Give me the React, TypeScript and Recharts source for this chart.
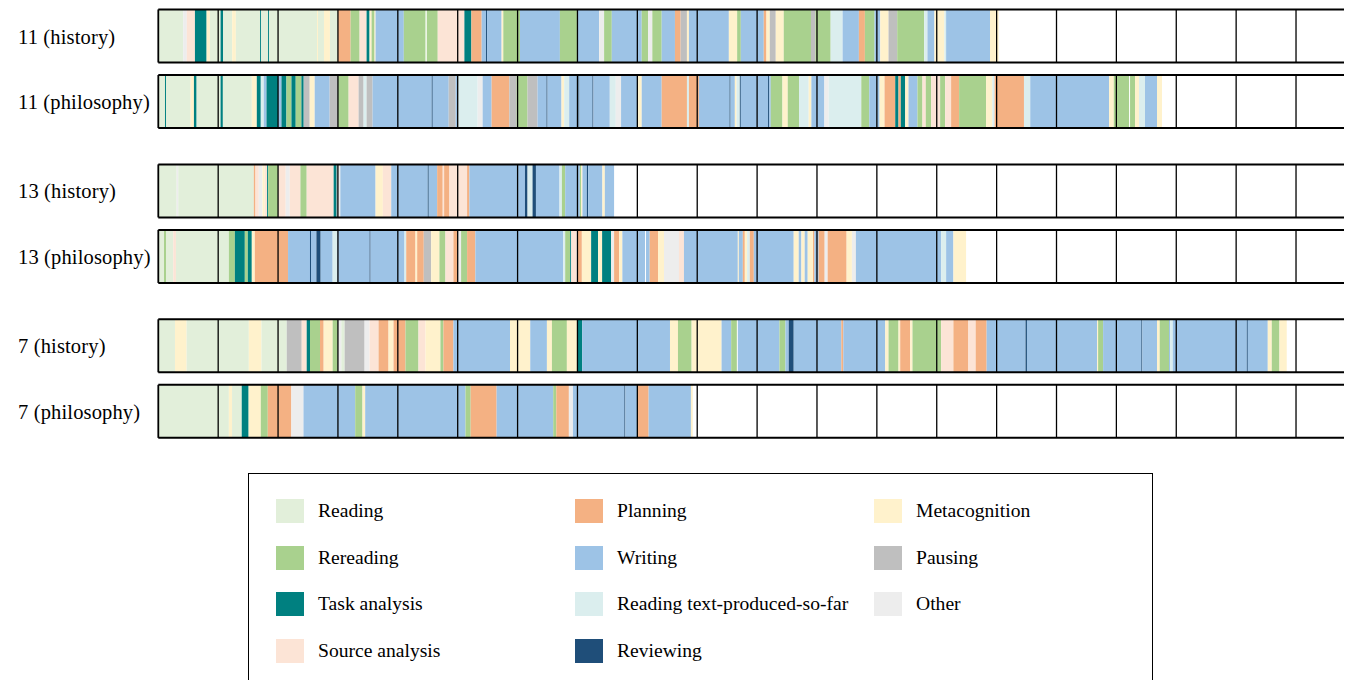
import React from 'react';
import { ComposedChart, XAxis, YAxis, ReferenceArea, ReferenceLine, Legend } from 'recharts';

type Seg = [number, number, string];

// Activity categories (key, label) and colours
const CATEGORY_KEYS = ['R', 'RR', 'T', 'S', 'P', 'W', 'RT', 'RV', 'M', 'PA', 'O'];
const CATEGORY_LABELS = [
  'Reading', 'Rereading', 'Task analysis', 'Source analysis', 'Planning', 'Writing',
  'Reading text-produced-so-far', 'Reviewing', 'Metacognition', 'Pausing', 'Other',
];
const CATEGORY_COLORS = [
  '#e2efda', '#a9d18e', '#008080', '#fce4d6', '#f4b183', '#9dc3e6',
  '#dbeeee', '#1f4e79', '#fff2cc', '#bfbfbf', '#ededed',
];
// legend columns (indices into the category list)
const LEGEND_COLUMNS = [[0, 1, 2, 3], [4, 5, 6, 7], [8, 9, 10]];

const ROW_LABELS = ['11 (history)', '11 (philosophy)', '13 (history)', '13 (philosophy)', '7 (history)', '7 (philosophy)'];

// time in seconds; one grid cell = 60 s
const TOTAL_SECONDS = 1200;
const CELL_SECONDS = 60;

const row11History: Seg[] = [
  [0, 25, 'R'], [25, 28.5, 'O'], [28.5, 36.7, 'S'], [36.7, 48.4, 'T'], [48.4, 51.7, 'M'], [51.7, 62.4, 'R'],
  [62.4, 65, 'T'], [65, 74, 'R'], [74, 77.7, 'M'], [77.7, 102, 'R'], [102, 103, 'T'], [103, 110, 'R'],
  [110, 111, 'T'], [111, 159, 'R'], [159, 160, 'M'], [160, 166, 'R'], [166, 172, 'M'], [172, 180, 'R'],
  [180, 192.7, 'P'], [192.7, 201.7, 'RR'], [201.7, 208.7, 'S'], [208.7, 211.7, 'T'], [211.7, 213.7, 'M'],
  [213.7, 216.7, 'RR'], [216.7, 217.7, 'M'], [217.7, 246, 'W'], [246, 267.7, 'RR'], [269, 280, 'RR'],
  [280, 306.7, 'S'], [306.7, 313.7, 'T'], [313.7, 324, 'P'], [324, 328.4, 'W'], [328.4, 329.4, 'RV'],
  [329.4, 344, 'W'], [344, 345.7, 'M'], [345.7, 362.4, 'RR'], [362.4, 402.4, 'W'], [402.4, 419.5, 'RR'],
  [419.5, 441.7, 'W'], [441.7, 446.7, 'O'], [446.7, 454.4, 'RR'], [454.4, 484.4, 'W'], [484.4, 490.7, 'RR'],
  [490.7, 495, 'O'], [495, 504.4, 'RR'], [504.4, 517.7, 'W'], [517.7, 523.4, 'P'], [523.4, 529.7, 'PA'],
  [529.7, 531.7, 'M'], [531.7, 571.7, 'W'], [571.7, 580, 'M'], [580, 583.7, 'RR'], [583.7, 606.7, 'W'],
  [606.7, 609.4, 'P'], [609.4, 612.7, 'M'], [612.7, 618.7, 'PA'], [618.7, 626.7, 'M'], [626.7, 654, 'RR'],
  [654, 658.4, 'PA'], [658.4, 673.7, 'RR'], [673.7, 685.7, 'RT'], [685.7, 702, 'W'], [702, 708, 'P'],
  [708, 717.7, 'RR'], [717.7, 723.4, 'W'], [723.4, 731.7, 'M'], [731.7, 740.4, 'PA'], [740.4, 767.4, 'RR'],
  [767.4, 770.7, 'RT'], [770.7, 777.7, 'W'], [777.7, 787.7, 'M'], [787.7, 789.4, 'RT'], [789.4, 833.4, 'W'],
  [833.4, 842, 'M'],
];

const row11Philosophy: Seg[] = [
  [0, 6.7, 'R'], [6.7, 7.7, 'T'], [7.7, 32.4, 'R'], [32.4, 35.7, 'M'], [35.7, 38.4, 'T'], [38.4, 62.4, 'R'],
  [62.4, 64.7, 'T'], [64.7, 93.7, 'R'], [93.7, 98.7, 'M'], [98.7, 102.7, 'T'], [102.7, 105.7, 'RT'],
  [105.7, 108.4, 'W'], [108.4, 120, 'T'], [120, 123.4, 'W'], [123.4, 128.4, 'T'], [128.4, 133.4, 'RR'],
  [133.4, 137.7, 'T'], [137.7, 143.4, 'RR'], [143.4, 145.7, 'T'], [145.7, 151.7, 'PA'], [151.7, 156.7, 'M'],
  [156.7, 171.7, 'W'], [171.7, 180, 'PA'], [180, 190.7, 'RR'], [190.7, 200.7, 'S'], [200.7, 205.7, 'PA'],
  [205.7, 208.7, 'RT'], [208.7, 214.7, 'PA'], [214.7, 274, 'W'], [274, 275, 'RV'], [275, 291, 'W'],
  [291, 298, 'PA'], [298, 300, 'W'], [300, 320, 'RT'], [320, 325, 'O'], [325, 334, 'W'], [334, 351.7, 'P'],
  [351.7, 359, 'PA'], [359, 370, 'RR'], [370, 380, 'PA'], [380, 389, 'W'], [389, 390, 'RV'], [390, 404, 'W'],
  [404, 406.7, 'M'], [406.7, 411.7, 'RT'], [411.7, 421, 'W'], [421, 422, 'RV'], [422, 435, 'W'],
  [435, 436, 'RV'], [436, 452.4, 'W'], [452.4, 458.4, 'RT'], [458.4, 463.7, 'O'], [463.7, 480, 'W'],
  [480, 484.4, 'M'], [484.4, 504.4, 'W'], [504.4, 529.7, 'P'], [529.7, 531.7, 'RT'], [531.7, 541.7, 'P'],
  [541.7, 572.4, 'W'], [572.4, 573.4, 'RV'], [573.4, 577.7, 'W'], [577.7, 579.4, 'M'], [579.4, 582.7, 'RT'],
  [582.7, 583.7, 'RV'], [583.7, 611, 'W'], [611, 612, 'RV'], [612, 613.7, 'W'], [613.7, 625.4, 'RR'],
  [625.4, 630.7, 'M'], [630.7, 642, 'RR'], [642, 651.7, 'RT'], [651.7, 654.4, 'M'], [654.4, 667.4, 'W'],
  [667.4, 671.7, 'O'], [671.7, 704.4, 'RT'], [704.4, 712.4, 'RR'], [712.4, 722.7, 'W'], [722.7, 727.7, 'M'],
  [727.7, 738.4, 'P'], [738.4, 741.7, 'T'], [741.7, 744, 'P'], [744, 748.4, 'T'], [748.4, 751.7, 'M'],
  [751.7, 760.7, 'W'], [760.7, 765.7, 'RR'], [765.7, 769, 'S'], [769, 774.4, 'RR'], [774.4, 783.4, 'S'],
  [783.4, 788.4, 'RR'], [788.4, 794.4, 'S'], [794.4, 802.4, 'P'], [802.4, 829.4, 'RR'], [829.4, 835.7, 'M'],
  [835.7, 838, 'RT'], [838, 867.4, 'P'], [867.4, 873.7, 'RT'], [873.7, 952.7, 'W'], [952.7, 957.4, 'M'],
  [957.4, 972.7, 'RR'], [973.7, 978.7, 'RR'], [978.7, 982.7, 'M'], [982.7, 988.7, 'RT'], [988.7, 1000.7, 'W'],
  [1000.7, 1005.7, 'M'],
];

const row13History: Seg[] = [
  [0, 18.4, 'R'], [18.4, 20, 'O'], [20, 95.7, 'R'], [95.7, 97.4, 'P'], [97.4, 100.7, 'S'], [100.7, 104.4, 'O'],
  [104.4, 106.7, 'M'], [106.7, 109, 'S'], [109, 110, 'T'], [110, 120, 'RR'], [120, 127.7, 'S'],
  [127.7, 131.7, 'O'], [131.7, 142.4, 'S'], [142.4, 148.7, 'RR'], [148.7, 175.7, 'S'], [175.7, 178.7, 'T'],
  [178.7, 180, 'PA'], [181, 182.4, 'O'], [182.4, 217.7, 'W'], [217.7, 225, 'M'], [225, 233.4, 'S'],
  [233.4, 270, 'W'], [270, 271, 'RV'], [271, 279.4, 'W'], [279.4, 285, 'P'], [285, 286.4, 'S'],
  [286.4, 291.7, 'P'], [291.7, 309.4, 'S'], [309.4, 311.7, 'P'], [311.7, 367.4, 'W'], [367.4, 370, 'RV'],
  [370, 375, 'RT'], [375, 378.4, 'RV'], [378.4, 402, 'W'], [402, 404.4, 'RT'], [404.4, 407.7, 'RR'],
  [407.7, 422.4, 'W'], [422.4, 423.7, 'RR'], [423.7, 425, 'M'], [425, 429.4, 'W'], [429.4, 430.7, 'RV'],
  [430.7, 445, 'W'], [445, 447.4, 'M'], [447.4, 456.7, 'W'],
];

const row13Philosophy: Seg[] = [
  [0, 5.7, 'R'], [5.7, 7.7, 'RR'], [7.7, 15, 'R'], [15, 17.7, 'S'], [17.7, 70.7, 'R'], [70.7, 76.7, 'RR'],
  [76.7, 86.7, 'T'], [86.7, 89.7, 'RR'], [89.7, 93.7, 'T'], [93.7, 96.7, 'M'], [96.7, 130, 'P'],
  [130, 152, 'W'], [152, 153, 'RV'], [153, 158.4, 'W'], [158.4, 162.7, 'RV'], [162.7, 174.7, 'W'],
  [174.7, 179.4, 'RT'], [179.4, 211.7, 'W'], [211.7, 212.7, 'RV'], [212.7, 246.7, 'W'], [246.7, 248.4, 'RT'],
  [248.4, 257.7, 'P'], [257.7, 259.4, 'M'], [259.4, 266, 'P'], [266, 273.4, 'PA'], [273.4, 281.7, 'M'],
  [281.7, 287.7, 'RR'], [287.7, 295.7, 'S'], [295.7, 300, 'P'], [300, 303.4, 'O'], [303.4, 309.4, 'RR'],
  [309.4, 317.7, 'P'], [317.7, 405.7, 'W'], [405.7, 407.7, 'RT'], [407.7, 412.7, 'RR'], [412.7, 413.7, 'T'],
  [413.7, 419, 'S'], [420, 424.4, 'P'], [424.4, 433.7, 'M'], [433.7, 440.7, 'T'], [440.7, 444.7, 'M'],
  [444.7, 453.7, 'T'], [453.7, 456.7, 'O'], [456.7, 461.7, 'P'], [461.7, 465, 'M'], [465, 487.7, 'W'],
  [488.7, 492.4, 'W'], [492.4, 500.7, 'P'], [500.7, 506.7, 'M'], [506.7, 521.7, 'O'], [521.7, 526.7, 'S'],
  [526.7, 580.7, 'W'], [580.7, 581.7, 'M'], [581.7, 585.7, 'W'], [585.7, 587.7, 'P'], [587.7, 590, 'M'],
  [590, 592.7, 'RT'], [592.7, 596.7, 'P'], [596.7, 636.7, 'W'], [636.7, 641.7, 'M'], [641.7, 644.4, 'W'],
  [644.4, 647.7, 'M'], [647.7, 650.7, 'W'], [650.7, 656, 'M'], [656, 657.4, 'P'], [657.4, 661.7, 'W'],
  [661.7, 667.7, 'P'], [667.7, 670.7, 'O'], [670.7, 689.7, 'P'], [689.7, 695, 'M'], [695, 699, 'O'],
  [699, 784.4, 'W'], [784.4, 789.4, 'RT'], [789.4, 796.7, 'W'], [796.7, 809.4, 'M'],
];

const row7History: Seg[] = [
  [0, 16.7, 'R'], [16.7, 28.4, 'M'], [28.4, 90.7, 'R'], [90.7, 103.4, 'M'], [103.4, 128.7, 'R'],
  [128.7, 143.7, 'PA'], [143.7, 148.7, 'S'], [148.7, 152, 'T'], [152, 162, 'RR'], [162, 165.7, 'P'],
  [165.7, 174.7, 'M'], [174.7, 180, 'RR'], [180, 183.4, 'O'], [183.4, 186.7, 'R'], [186.7, 206.7, 'PA'],
  [206.7, 211.7, 'O'], [211.7, 220.7, 'S'], [220.7, 230.7, 'P'], [230.7, 235.7, 'M'], [235.7, 247.7, 'P'],
  [247.7, 260.7, 'RR'], [260.7, 267.7, 'S'], [267.7, 282.7, 'M'], [282.7, 285.7, 'RR'], [285.7, 295.7, 'P'],
  [295.7, 352.4, 'W'], [352.4, 372.7, 'M'], [372.7, 389.4, 'W'], [389.4, 394.4, 'M'], [394.4, 409.4, 'RR'],
  [409.4, 419.5, 'M'], [419.5, 424.7, 'T'], [424.7, 512.7, 'W'], [512.7, 520.7, 'M'], [520.7, 534.4, 'RR'],
  [534.4, 564.4, 'M'], [564.4, 574, 'W'], [574, 579.7, 'RR'], [580.7, 622.4, 'W'], [622.4, 628.4, 'RR'],
  [628.4, 631.7, 'W'], [631.7, 636.7, 'RV'], [636.7, 684.4, 'W'], [684.4, 686.4, 'P'], [686.4, 728.4, 'W'],
  [728.4, 731.7, 'M'], [731.7, 741.7, 'RR'], [741.7, 743.4, 'M'], [743.4, 753.4, 'P'], [753.4, 755.7, 'M'],
  [755.7, 784.4, 'RR'], [784.4, 796.7, 'S'], [796.7, 811.7, 'P'], [811.7, 819, 'S'], [819, 830, 'P'],
  [830, 869, 'W'], [869, 870.4, 'RV'], [870.4, 940.7, 'W'], [940.7, 941.7, 'M'], [941.7, 946.7, 'RR'],
  [946.7, 985, 'W'], [985, 986, 'RV'], [986, 1000.7, 'W'], [1000.7, 1003.4, 'M'], [1003.4, 1012.7, 'RR'],
  [1012.7, 1014, 'W'], [1014, 1016.5, 'RT'], [1016.5, 1090.7, 'W'], [1090.7, 1091.7, 'RV'],
  [1091.7, 1111.7, 'W'], [1111.7, 1115.7, 'M'], [1115.7, 1123.4, 'RR'], [1123.4, 1130.7, 'M'],
];

const row7Philosophy: Seg[] = [
  [0, 70.7, 'R'], [70.7, 73.9, 'M'], [73.9, 83.6, 'R'], [83.6, 90.5, 'T'], [90.5, 102.7, 'M'],
  [102.7, 109.7, 'RR'], [109.7, 133.3, 'P'], [133.3, 145.5, 'O'], [145.5, 197.3, 'W'], [197.3, 204.6, 'RR'],
  [204.6, 207.3, 'M'], [207.3, 307.8, 'W'], [307.8, 313, 'RR'], [313, 339, 'P'], [339, 395.7, 'W'],
  [395.7, 398.8, 'RR'], [398.8, 411.4, 'P'], [411.4, 415.5, 'O'], [415.5, 467, 'W'], [467, 468, 'RV'],
  [468, 480, 'W'], [480, 491.3, 'P'], [491.3, 533.7, 'W'], [533.7, 535.5, 'M'],
];

const ROWS: Seg[][] = [row11History, row11Philosophy, row13History, row13Philosophy, row7History, row7Philosophy];

// layout: vertical position of each row (in row units) and half height of a row
const ROW_POS = [0, 1, 2.365, 3.365, 4.73, 5.73];
const HALF = 0.405;

const FONT = "'Liberation Serif', 'Times New Roman', serif";

const colorOf = (k: string) => CATEGORY_COLORS[CATEGORY_KEYS.indexOf(k)];

const RowTick = (props: any) => {
  const { y, payload } = props;
  const idx = ROW_POS.indexOf(payload.value);
  return (
    <text x={10} y={y} dy={7.5} textAnchor="start" fontFamily={FONT} fontSize={20.5} letterSpacing={0.15} fill="#000">
      {ROW_LABELS[idx]}
    </text>
  );
};

const LegendBox = () => {
  const colX = [27, 326, 625];
  const rowY = [37, 84, 130, 177];
  return (
    <div
      style={{
        position: 'relative',
        width: 903,
        height: 230,
        border: '1.5px solid #000',
        background: '#fff',
        fontFamily: FONT,
        fontSize: 19.6,
        color: '#000',
      }}
    >
      {LEGEND_COLUMNS.map((col, ci) =>
        col.map((catIdx, ri) => (
          <div key={`${ci}-${ri}`} style={{ position: 'absolute', left: colX[ci], top: rowY[ri] - 12, height: 24, display: 'flex', alignItems: 'center' }}>
            <div style={{ width: 28, height: 24, background: CATEGORY_COLORS[catIdx] }} />
            <span style={{ marginLeft: 14, whiteSpace: 'nowrap', lineHeight: '24px' }}>{CATEGORY_LABELS[catIdx]}</span>
          </div>
        ))
      )}
    </div>
  );
};

export default function App() {
  const cells: number[] = [];
  for (let t = 0; t < TOTAL_SECONDS; t += CELL_SECONDS) cells.push(t);

  return (
    <div style={{ width: 1344, height: 672, overflow: 'hidden', position: 'relative', background: '#fff' }}>
      <style>{'html, body { overflow: hidden; } ::-webkit-scrollbar { display: none; width: 0; height: 0; }'}</style>
      <ComposedChart
        width={1360}
        height={672}
        data={[{ t: 0 }]}
        margin={{ top: 0.49, right: 12.1, bottom: 213, left: 8.3 }}
      >
        <XAxis type="number" dataKey="t" domain={[0, TOTAL_SECONDS]} hide allowDataOverflow />
        <YAxis
          type="number"
          domain={[-0.42, 6.58]}
          reversed
          ticks={ROW_POS}
          interval={0}
          width={142}
          axisLine={false}
          tickLine={false}
          tick={<RowTick />}
          allowDataOverflow
        />
        {ROWS.map((segs, ri) =>
          segs.map(([a, b, k], si) => (
            <ReferenceArea
              key={`s-${ri}-${si}`}
              x1={a}
              x2={b}
              y1={ROW_POS[ri] - HALF}
              y2={ROW_POS[ri] + HALF}
              fill={colorOf(k)}
              fillOpacity={1}
              stroke="none"
              ifOverflow="visible"
            />
          ))
        )}
        {ROWS.map((_, ri) =>
          cells.map((t) => (
            <ReferenceLine
              key={`c-${ri}-${t}`}
              segment={[{ x: t, y: ROW_POS[ri] - HALF }, { x: t, y: ROW_POS[ri] + HALF }]}
              stroke="#000"
              strokeWidth={t === 0 ? 1.8 : 1.3}
              ifOverflow="visible"
            />
          ))
        )}
        {ROWS.map((_, ri) =>
          [ROW_POS[ri] - HALF, ROW_POS[ri] + HALF].map((yv, j) => (
            <ReferenceLine
              key={`b-${ri}-${j}`}
              segment={[{ x: 0, y: yv }, { x: TOTAL_SECONDS, y: yv }]}
              stroke="#000"
              strokeWidth={2}
              ifOverflow="visible"
            />
          ))
        )}
        <Legend
          layout="vertical"
          align="center"
          verticalAlign="middle"
          content={() => <LegendBox />}
          wrapperStyle={{ position: 'absolute', left: 240, top: 465, width: 906, height: 233 }}
        />
      </ComposedChart>
    </div>
  );
}
